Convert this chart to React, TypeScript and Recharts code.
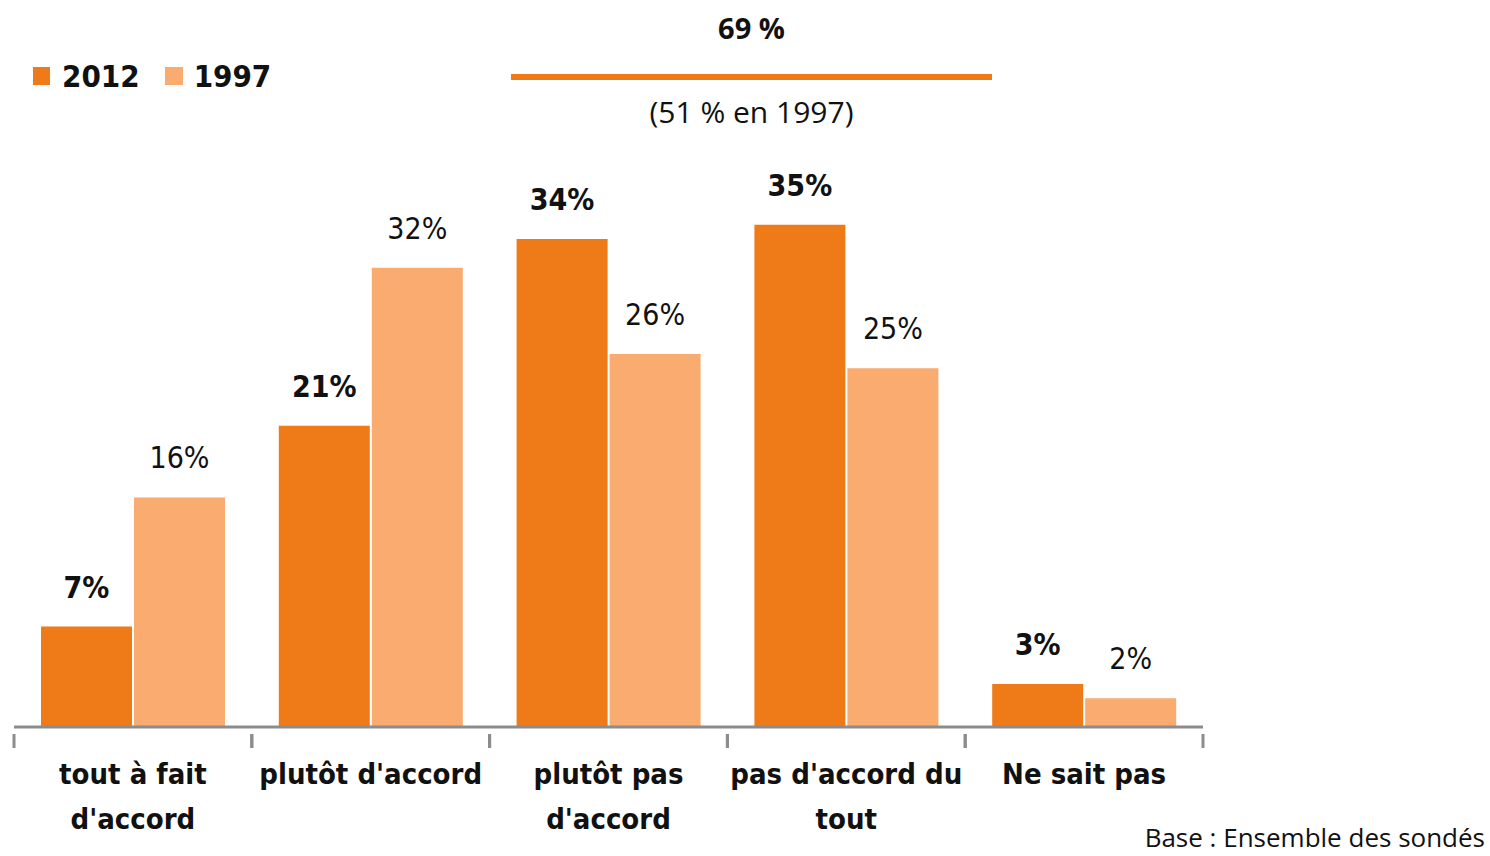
import React from 'react';
import { BarChart, Bar, XAxis, YAxis, LabelList } from 'recharts';

const categories = ["tout à fait d'accord", "plutôt d'accord", "plutôt pas d'accord", "pas d'accord du tout", 'Ne sait pas'];
const tickLines = [["tout à fait", "d'accord"], ["plutôt d'accord"], ['plutôt pas', "d'accord"], ["pas d'accord du", 'tout'], ['Ne sait pas']];
const values2012 = [7, 21, 34, 35, 3];
const values1997 = [16, 32, 26, 25, 2];

const DARK = '#EE7A18';
const LIGHT = '#F9AB70';
const AXIS = '#8C8C8C';
const LABEL_FONT = '"DejaVu Sans Condensed", "DejaVu Sans", sans-serif';
const NOTE_FONT = '"Open Sans", "Liberation Sans", sans-serif';

const data = categories.map((name, i) => ({ name, y2012: values2012[i], y1997: values1997[i], lines: tickLines[i] }));

const W = 1490;
const H = 856;
const margin = { top: 153, right: 287, bottom: 29, left: 14 };
const bandWidth = (W - margin.left - margin.right) / categories.length;

// category label with boundary tick marks on each side
const CategoryTick = (props: any) => {
  const { x, y, index } = props;
  const lines = tickLines[index] || [];
  const half = bandWidth / 2;
  return (
    <g>
      <line x1={x - half} x2={x - half} y1={y - 1} y2={y + 13} stroke={AXIS} strokeWidth={3} />
      <line x1={x + half} x2={x + half} y1={y - 1} y2={y + 13} stroke={AXIS} strokeWidth={3} />
      <text x={x} y={y} textAnchor="middle" fontFamily={LABEL_FONT} fontWeight="bold" fontSize={29} fill="#111" style={{ fontStretch: 'condensed' }}>
        {lines.map((l, i) => (
          <tspan key={i} x={x} y={y + 49 + i * 45}>
            {l}
          </tspan>
        ))}
      </text>
    </g>
  );
};

const pct = (v: any) => `${v}%`;

export default function App() {
  return (
    <div style={{ position: 'absolute', left: 0, top: 0, width: W, height: H, background: '#fff', overflow: 'hidden' }}>
      <BarChart width={W} height={H} data={data} margin={margin} barCategoryGap={27} barGap={2}>
        <XAxis
          dataKey="name"
          height={100}
          interval={0}
          tickLine={false}
          axisLine={{ stroke: AXIS, strokeWidth: 3 }}
          tick={<CategoryTick />}
        />
        <YAxis hide domain={[0, 40]} />
        <Bar dataKey="y2012" fill={DARK} isAnimationActive={false}>
          <LabelList dataKey="y2012" position="top" offset={29} formatter={pct} fontFamily={LABEL_FONT} fontWeight="bold" fontSize={30} fill="#111" style={{ fontStretch: 'condensed' }} />
        </Bar>
        <Bar dataKey="y1997" fill={LIGHT} isAnimationActive={false}>
          <LabelList dataKey="y1997" position="top" offset={29} formatter={pct} fontFamily={LABEL_FONT} fontSize={30} fill="#111" style={{ fontStretch: 'condensed' }} />
        </Bar>
      </BarChart>

      {/* legend */}
      <div style={{ position: 'absolute', left: 33, top: 58, display: 'flex', alignItems: 'center', fontFamily: LABEL_FONT, fontStretch: 'condensed', fontWeight: 'bold', fontSize: 31, color: '#111' }}>
        <span style={{ width: 17, height: 18, background: DARK, display: 'inline-block', marginRight: 12 }} />
        <span style={{ marginRight: 25 }}>2012</span>
        <span style={{ width: 18, height: 18, background: LIGHT, display: 'inline-block', marginRight: 11 }} />
        <span>1997</span>
      </div>

      {/* total disagreement note */}
      <div style={{ position: 'absolute', left: 511, width: 481, top: 8, textAlign: 'center', fontFamily: NOTE_FONT, fontWeight: 'bold', fontSize: 29, color: '#111' }}>
        69 %
      </div>
      <div style={{ position: 'absolute', left: 511, width: 481, top: 74, height: 6, background: DARK }} />
      <div style={{ position: 'absolute', left: 511, width: 481, top: 91, textAlign: 'center', fontFamily: NOTE_FONT, fontSize: 30, color: '#111' }}>
        (51 % en 1997)
      </div>

      <div style={{ position: 'absolute', right: 5, top: 822, lineHeight: 1.2, fontFamily: NOTE_FONT, fontSize: 26, color: '#111' }}>
        Base : Ensemble des sondés
      </div>
    </div>
  );
}
